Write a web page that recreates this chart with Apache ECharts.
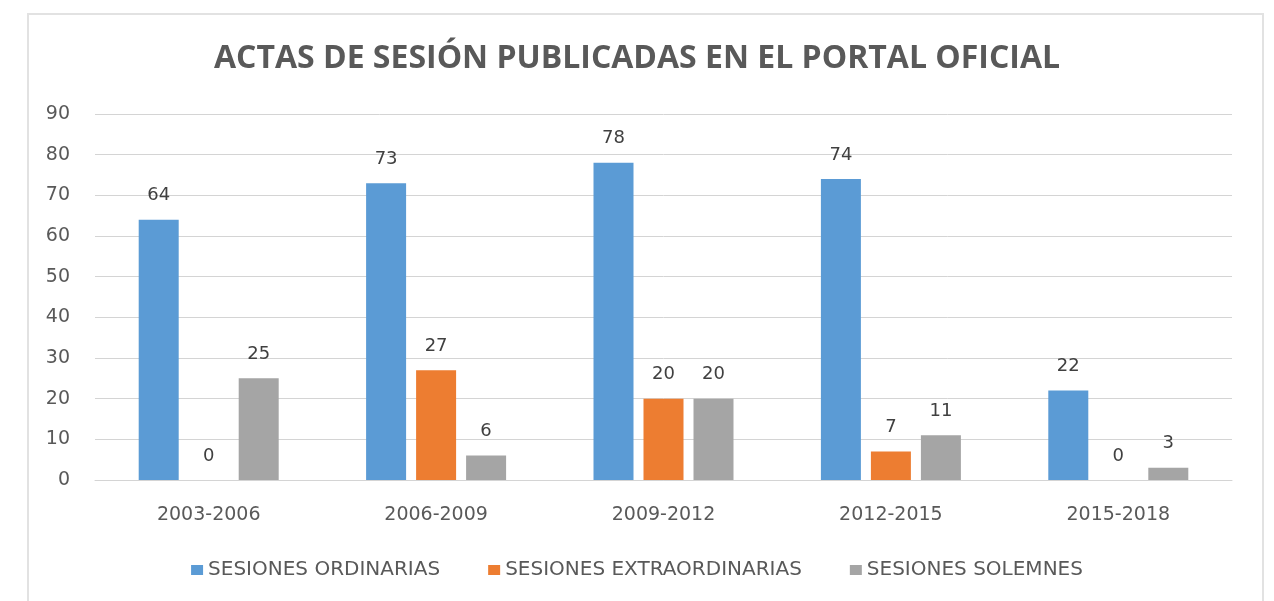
<!DOCTYPE html>
<html>
<head>
<meta charset="utf-8">
<script src="https://cdn.jsdelivr.net/npm/echarts@6/dist/echarts.min.js"></script>
<style>
html, body { margin: 0; padding: 0; background: #fff; }
#frame { position: absolute; left: 27px; top: 13px; width: 1237px; height: 600px; border: 2px solid #e2e2e2; box-sizing: border-box; }
#main { width: 1274px; height: 601px; position: absolute; left: 0; top: 0; }
</style>
</head>
<body>
<div id="frame"></div>
<div id="main"></div>
<script>
var periods = ['2003-2006', '2006-2009', '2009-2012', '2012-2015', '2015-2018'];
var ordinarias = [64, 73, 78, 74, 22];
var extraordinarias = [0, 27, 20, 7, 0];
var solemnes = [25, 6, 20, 11, 3];
var yTicks = [0, 90, 10];

var myChart = echarts.init(document.getElementById('main'));

var textColor = '#595959';
var labelStyle = {
    show: true,
    position: 'top',
    distance: 15,
    color: '#404040',
    fontSize: 18,
    fontFamily: 'DejaVu Sans'
};

var option = {
    animation: false,
    color: ['#5B9BD5', '#ED7D31', '#A5A5A5'],
    title: {
        text: 'ACTAS DE SESIÓN PUBLICADAS EN EL PORTAL OFICIAL',
        left: 'center',
        top: 38,
        textStyle: {
            color: textColor,
            fontSize: 32,
            fontWeight: 'bold',
            fontFamily: 'Open Sans'
        }
    },
    legend: {
        top: 555,
        left: 'center',
        itemWidth: 12,
        itemHeight: 10,
        itemGap: 48,
        icon: 'rect',
        textStyle: { color: textColor, fontSize: 20, fontFamily: 'DejaVu Sans' },
        data: ['SESIONES ORDINARIAS', 'SESIONES EXTRAORDINARIAS', 'SESIONES SOLEMNES']
    },
    grid: { left: 95, right: 42, top: 114, bottom: 121 },
    xAxis: {
        type: 'category',
        data: periods,
        axisTick: { show: false },
        axisLine: { lineStyle: { color: '#d4d4d4', width: 1 } },
        axisLabel: { color: textColor, fontSize: 19, fontFamily: 'DejaVu Sans', margin: 26 }
    },
    yAxis: {
        type: 'value',
        min: yTicks[0],
        max: yTicks[1],
        interval: yTicks[2],
        axisLine: { show: false },
        axisTick: { show: false },
        axisLabel: { color: textColor, fontSize: 19, fontFamily: 'DejaVu Sans', margin: 25 },
        splitLine: { lineStyle: { color: '#d4d4d4', width: 1 } }
    },
    series: [
        { name: 'SESIONES ORDINARIAS', type: 'bar', data: ordinarias, barWidth: 40, barGap: '25%', label: labelStyle },
        { name: 'SESIONES EXTRAORDINARIAS', type: 'bar', data: extraordinarias, barWidth: 40, barGap: '25%', label: labelStyle },
        { name: 'SESIONES SOLEMNES', type: 'bar', data: solemnes, barWidth: 40, barGap: '25%', label: labelStyle }
    ]
};

myChart.setOption(option);
</script>
</body>
</html>
